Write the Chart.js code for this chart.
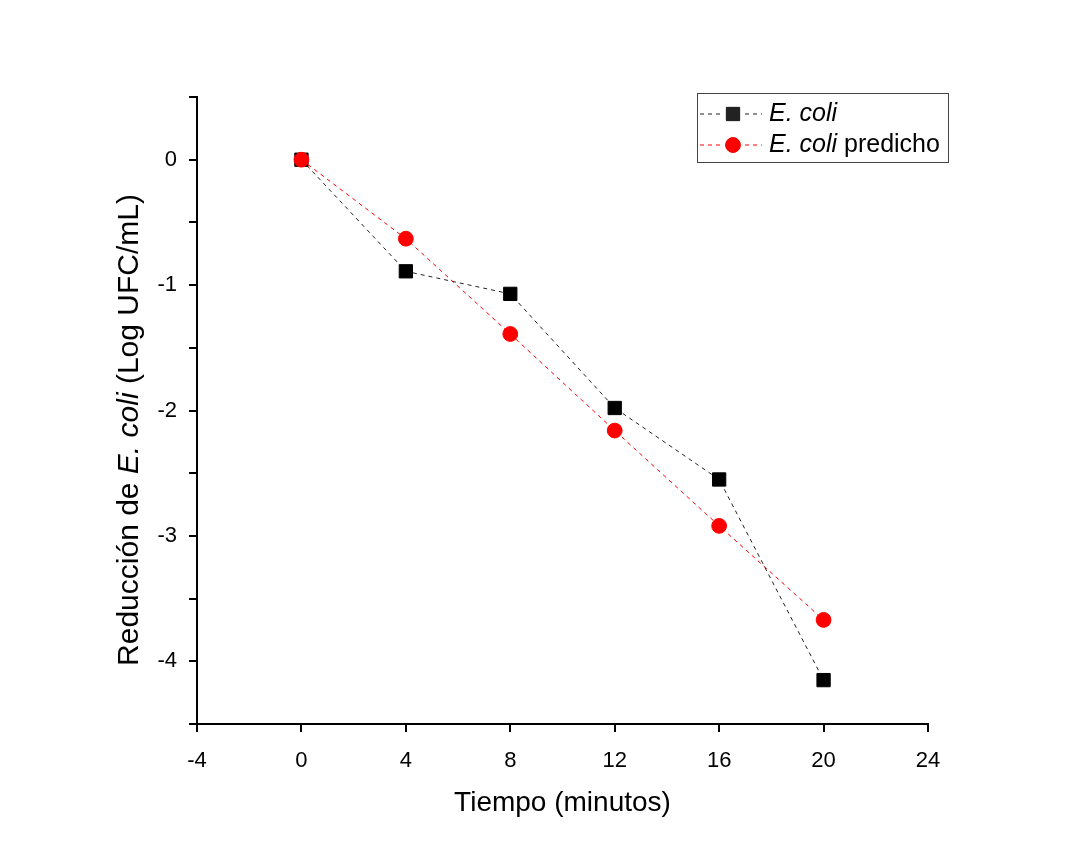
<!DOCTYPE html>
<html>
<head>
<meta charset="utf-8">
<script src="https://cdn.jsdelivr.net/npm/chart.js@4.4.1/dist/chart.umd.min.js"></script>
<style>
  body { margin: 0; background: #fff; }
  #reduccionChart { display: block; }
</style>
</head>
<body>
<canvas id="reduccionChart" width="1067" height="867"></canvas>
<script>
// tiempos (minutos)
var tiempos = [0, 4, 8, 12, 16, 20];
// reduccion observada y predicha (Log UFC/mL)
var ecoli = [0, -0.89, -1.07, -1.98, -2.55, -4.15];
var ecoliPredicho = [0, -0.63, -1.39, -2.16, -2.92, -3.67];
// ejes
var xTicks = [-4, 0, 4, 8, 12, 16, 20, 24];
var yTicks = [0.5, 0, -0.5, -1, -1.5, -2, -2.5, -3, -3.5, -4, -4.5];

var FONT = "'Liberation Sans', Arial, sans-serif";

var toPoints = function(xs, ys) {
  var pts = [];
  for (var i = 0; i < xs.length; i++) {
    pts.push({ x: xs[i], y: ys[i] });
  }
  return pts;
};

// titulos de ejes y leyenda con partes en cursiva
var textosPlugin = {
  id: 'textos',
  afterDraw: function(chart) {
    var ctx = chart.ctx;
    var area = chart.chartArea;
    ctx.save();
    ctx.fillStyle = '#000';
    ctx.textBaseline = 'middle';

    // titulo eje x
    ctx.font = '28px ' + FONT;
    ctx.textAlign = 'center';
    ctx.fillText('Tiempo (minutos)', (area.left + area.right) / 2, 803);

    // titulo eje y (rotado)
    var partes = [
      { t: 'Reducción de ', f: '30px ' + FONT },
      { t: 'E. coli', f: 'italic 30px ' + FONT },
      { t: ' (Log UFC/mL)', f: '30px ' + FONT }
    ];
    var total = 0;
    partes.forEach(function(p) { ctx.font = p.f; p.w = ctx.measureText(p.t).width; total += p.w; });
    ctx.translate(130, 430);
    ctx.rotate(-Math.PI / 2);
    ctx.textAlign = 'left';
    var px = -total / 2;
    partes.forEach(function(p) { ctx.font = p.f; ctx.fillText(p.t, px, 0); px += p.w; });
    ctx.setTransform(1, 0, 0, 1, 0, 0);

    // leyenda
    ctx.strokeStyle = '#444';
    ctx.lineWidth = 1;
    ctx.strokeRect(697.5, 93.5, 251, 69);
    var filas = [
      { y: 114, color: '#222', estilo: 'rect', r: 9.4, extra: '' },
      { y: 145, color: '#ff0000', estilo: 'circle', r: 7.4, extra: ' predicho' }
    ];
    filas.forEach(function(f) {
      ctx.strokeStyle = f.color;
      ctx.setLineDash([4, 4]);
      ctx.beginPath();
      ctx.moveTo(700, f.y); ctx.lineTo(722, f.y);
      ctx.moveTo(745, f.y); ctx.lineTo(762, f.y);
      ctx.stroke();
      ctx.setLineDash([]);
      Chart.helpers.drawPoint(ctx, { pointStyle: f.estilo, radius: f.r, borderWidth: 1 }, 733, f.y);
      ctx.fillStyle = f.color;
      ctx.fill();
      ctx.fillStyle = '#000';
      ctx.textAlign = 'left';
      ctx.font = 'italic 25px ' + FONT;
      ctx.fillText('E. coli', 769, f.y);
      if (f.extra) {
        var w = ctx.measureText('E. coli').width;
        ctx.font = '25px ' + FONT;
        ctx.fillText(f.extra, 769 + w, f.y);
      }
    });
    ctx.restore();
  }
};

var chart = new Chart(document.getElementById('reduccionChart').getContext('2d'), {
  type: 'scatter',
  data: {
    datasets: [
      {
        label: 'E. coli predicho',
        data: toPoints(tiempos, ecoliPredicho),
        showLine: true,
        borderColor: '#ff0000',
        backgroundColor: '#ff0000',
        borderWidth: 1,
        borderDash: [4, 4],
        pointStyle: 'circle',
        pointRadius: 7.4,
        pointBorderWidth: 1,
        order: 0
      },
      {
        label: 'E. coli',
        data: toPoints(tiempos, ecoli),
        showLine: true,
        borderColor: '#222',
        backgroundColor: '#000',
        borderWidth: 1,
        borderDash: [4, 4],
        pointStyle: 'rect',
        pointRadius: 9.4,
        pointBorderWidth: 1,
        pointBorderColor: '#000',
        order: 1
      }
    ]
  },
  options: {
    responsive: false,
    animation: false,
    layout: { padding: { left: 0, top: 97, right: 139, bottom: 0 } },
    plugins: { legend: { display: false }, tooltip: { enabled: false } },
    scales: {
      x: {
        type: 'linear',
        min: xTicks[0],
        max: xTicks[xTicks.length - 1],
        afterBuildTicks: function(scale) {
          scale.ticks = xTicks.map(function(v) { return { value: v }; });
        },
        afterFit: function(scale) { scale.height = 143; },
        ticks: { color: '#000', font: { family: FONT, size: 22 }, padding: 16, maxRotation: 0, autoSkip: false },
        grid: { drawOnChartArea: false, drawTicks: true, tickLength: 8, color: '#000', lineWidth: 2 },
        border: { display: true, color: '#000', width: 2 }
      },
      y: {
        type: 'linear',
        min: yTicks[yTicks.length - 1],
        max: yTicks[0],
        afterBuildTicks: function(scale) {
          scale.ticks = yTicks.map(function(v) { return { value: v }; });
        },
        afterFit: function(scale) { scale.width = 197; },
        ticks: {
          color: '#000',
          font: { family: FONT, size: 22 },
          padding: 12,
          autoSkip: false,
          callback: function(v) { return Number.isInteger(v) ? String(v) : ''; }
        },
        grid: { drawOnChartArea: false, drawTicks: true, tickLength: 8, color: '#000', lineWidth: 2 },
        border: { display: true, color: '#000', width: 2 }
      }
    }
  },
  plugins: [textosPlugin]
});
</script>
</body>
</html>
